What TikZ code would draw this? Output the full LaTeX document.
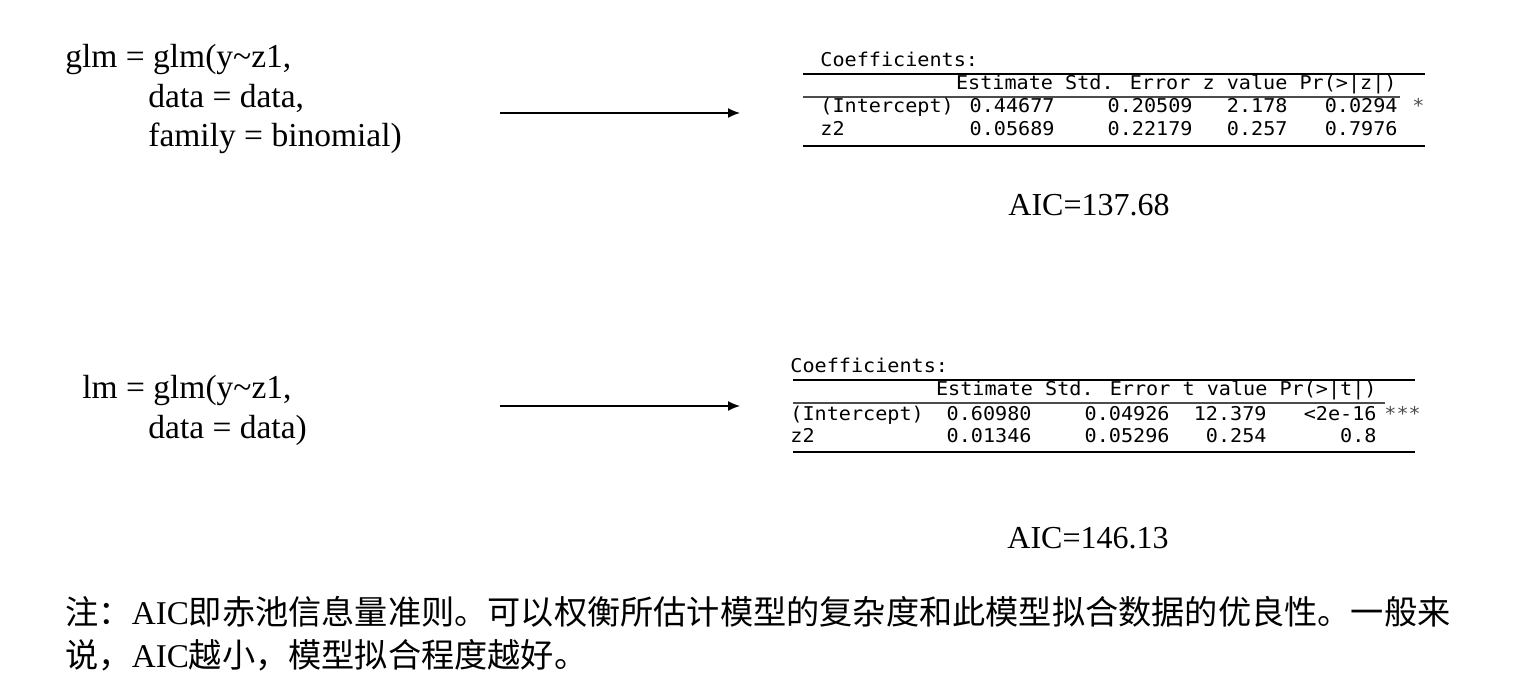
\documentclass[tikz,border=0pt]{standalone}
\usepackage{fontspec}
\setmainfont{Liberation Serif}
\newfontfamily\cjk{Noto Sans CJK SC}
\newfontfamily\rmono[FakeStretch=1.06]{DejaVu Sans Mono}
\usetikzlibrary{arrows.meta}

\begin{document}
\begin{tikzpicture}[x = 0.5pt, y = -0.5pt,
	code/.style = {anchor = base west, inner sep = 0pt, font = \fontsize{16.75pt}{20pt}\selectfont},
	mono/.style = {inner sep = 0pt, font = \rmono\fontsize{9.5pt}{11pt}\selectfont},
	aic/.style = {anchor = base, inner sep = 0pt, font = \fontsize{16pt}{19pt}\selectfont},
	note/.style = {anchor = base west, inner sep = 0pt, font = \fontsize{16.6pt}{20pt}\selectfont},
	rule/.style = {line width = 1.3pt},
	midrule/.style = {line width = 0.6pt, black!70},
	link/.style = {line width = 0.75pt, -{Latex[length = 6pt, width = 5pt]}}]
	\def\ta{74};
	\def\tb{380};
	
	\useasboundingbox (0,0) rectangle (1527,699);
	
	\node [code] (glmA) at (65,68) {glm = glm(y\textasciitilde z1,};
	\node [code] (glmB) at (148,108) {data = data,};
	\node [code] (glmC) at (148,147) {family = binomial)};
	
	\node [code] (lmA) at (82,399) {lm = glm(y\textasciitilde z1,};
	\node [code] (lmB) at (148,439) {data = data)};
	
	\coordinate (arrAs) at (500,113);
	\coordinate (arrAe) at (740,113);
	\draw [link] (arrAs) -- (arrAe);
	\coordinate (arrBs) at (500,406);
	\coordinate (arrBe) at (740,406);
	\draw [link] (arrBs) -- (arrBe);
	
	\node [mono, anchor = base west] (coefA) at (820,\ta-7) {Coefficients:};
	\draw [rule] (803,\ta) -- (1425,\ta);
	\node [mono, anchor = base east] (headA) at (1397,\ta+16) {Estimate Std. Error z value Pr(>|z|)};
	\draw [midrule] (803,\ta+23) -- (1400,\ta+23);
	\node [mono, anchor = base west] (intA) at (820,\ta+39) {(Intercept)};
	\node [mono, anchor = base east] (intAest) at (1055,\ta+39) {0.44677};
	\node [mono, anchor = base east] (intAse) at (1193,\ta+39) {0.20509};
	\node [mono, anchor = base east] (intAz) at (1288,\ta+39) {2.178};
	\node [mono, anchor = base east] (intAp) at (1398,\ta+39) {0.0294};
	\node [mono, anchor = base west, black!70] (intAsig) at (1412,\ta+39) {*};
	\node [mono, anchor = base west] (zA) at (820,\ta+62) {z2};
	\node [mono, anchor = base east] (zAest) at (1055,\ta+62) {0.05689};
	\node [mono, anchor = base east] (zAse) at (1193,\ta+62) {0.22179};
	\node [mono, anchor = base east] (zAz) at (1288,\ta+62) {0.257};
	\node [mono, anchor = base east] (zAp) at (1398,\ta+62) {0.7976};
	\draw [rule] (803,\ta+72) -- (1425,\ta+72);
	
	\node [aic] (aicA) at (1089,216) {AIC=137.68};
	
	\node [mono, anchor = base west] (coefB) at (790,\tb-7) {Coefficients:};
	\draw [rule] (793,\tb) -- (1415,\tb);
	\node [mono, anchor = base east] (headB) at (1377,\tb+16) {Estimate Std. Error t value Pr(>|t|)};
	\draw [midrule] (793,\tb+23) -- (1385,\tb+23);
	\node [mono, anchor = base west] (intB) at (790,\tb+41) {(Intercept)};
	\node [mono, anchor = base east] (intBest) at (1032,\tb+41) {0.60980};
	\node [mono, anchor = base east] (intBse) at (1170,\tb+41) {0.04926};
	\node [mono, anchor = base east] (intBt) at (1267,\tb+41) {12.379};
	\node [mono, anchor = base east] (intBp) at (1377,\tb+41) {<2e-16};
	\node [mono, anchor = base west, black!70] (intBsig) at (1384,\tb+41) {***};
	\node [mono, anchor = base west] (zB) at (790,\tb+63) {z2};
	\node [mono, anchor = base east] (zBest) at (1032,\tb+63) {0.01346};
	\node [mono, anchor = base east] (zBse) at (1170,\tb+63) {0.05296};
	\node [mono, anchor = base east] (zBt) at (1267,\tb+63) {0.254};
	\node [mono, anchor = base east] (zBp) at (1377,\tb+63) {0.8};
	\draw [rule] (793,\tb+72) -- (1415,\tb+72);
	
	\node [aic] (aicB) at (1088,549) {AIC=146.13};
	
	\node [note] (noteA) at (65,625) {{\cjk 注：}AIC{\cjk 即赤池信息量准则。可以权衡所估计模型的复杂度和此模型拟合数据的优良性。一般来}};
	\node [note] (noteB) at (65,668) {{\cjk 说，}AIC{\cjk 越小，模型拟合程度越好。}};
\end{tikzpicture}
\end{document}
